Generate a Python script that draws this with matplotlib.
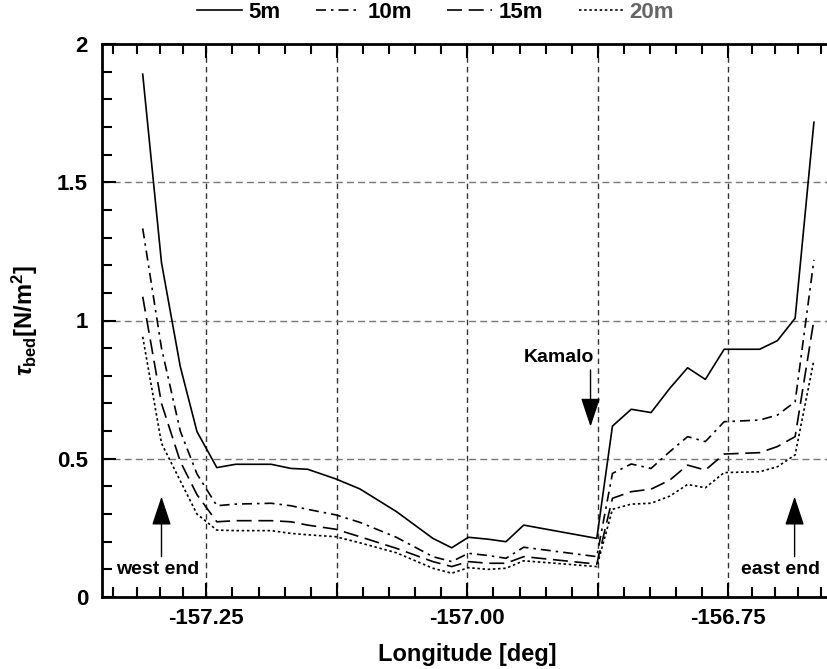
import matplotlib
matplotlib.use("Agg")
import matplotlib.pyplot as plt
from matplotlib.ticker import FixedLocator, FuncFormatter
import numpy as np

plt.rcParams['font.family'] = ['Liberation Sans', 'DejaVu Sans']
plt.rcParams['font.weight'] = 'bold'
plt.rcParams['axes.unicode_minus'] = False
plt.rcParams['mathtext.fontset'] = 'custom'
plt.rcParams['mathtext.rm'] = 'Liberation Sans'
plt.rcParams['mathtext.bf'] = 'Liberation Sans:bold'
plt.rcParams['mathtext.it'] = 'Liberation Sans:italic'

# longitude of the sample points along the coast
lon = [-157.311, -157.293, -157.275, -157.259, -157.240, -157.222, -157.188,
       -157.169, -157.153, -157.126, -157.103, -157.068, -157.033, -157.015,
       -156.999, -156.980, -156.963, -156.946, -156.876, -156.861, -156.843,
       -156.824, -156.806, -156.789, -156.772, -156.754, -156.720, -156.703,
       -156.686, -156.668]

# bed shear stress [N/m2] for each depth
tau_5m = [1.891, 1.209, 0.833, 0.598, 0.468, 0.480, 0.480, 0.465, 0.462, 0.427,
          0.391, 0.309, 0.212, 0.178, 0.216, 0.209, 0.200, 0.260, 0.212, 0.618,
          0.679, 0.667, 0.755, 0.829, 0.787, 0.896, 0.896, 0.927, 1.008, 1.717]
tau_10m = [1.333, 0.900, 0.600, 0.445, 0.330, 0.336, 0.339, 0.330, 0.317, 0.297,
           0.270, 0.216, 0.146, 0.128, 0.158, 0.150, 0.140, 0.180, 0.146, 0.447,
           0.481, 0.465, 0.526, 0.580, 0.562, 0.634, 0.640, 0.658, 0.706, 1.219]
tau_15m = [1.086, 0.700, 0.490, 0.370, 0.272, 0.276, 0.276, 0.272, 0.260, 0.245,
           0.218, 0.176, 0.128, 0.110, 0.128, 0.122, 0.122, 0.146, 0.119, 0.357,
           0.381, 0.390, 0.423, 0.477, 0.459, 0.517, 0.522, 0.544, 0.580, 1.002]
tau_20m = [0.941, 0.556, 0.420, 0.300, 0.242, 0.240, 0.240, 0.230, 0.225, 0.218,
           0.196, 0.160, 0.104, 0.086, 0.106, 0.100, 0.104, 0.131, 0.110, 0.317,
           0.336, 0.339, 0.365, 0.407, 0.395, 0.450, 0.453, 0.471, 0.514, 0.857]

labels = ['5m', '10m', '15m', '20m']
styles = ['-', (0, (6, 3, 1.5, 3)), (0, (9, 4)), (0, (1.5, 1.6))]

fig = plt.figure(figsize=(8.27, 6.69), dpi=100)
ax = fig.add_axes([102 / 827, 72 / 669, 730.7 / 827, 553 / 669])

for y, lab, ls in zip([tau_5m, tau_10m, tau_15m, tau_20m], labels, styles):
    ax.plot(lon, y, color='black', linestyle=ls, linewidth=1.2, label=lab)

ax.set_xlim(-157.35, -156.65)
ax.set_ylim(0, 2)

# grid
for gx in np.arange(-157.25, -156.70, 0.125):
    ax.axvline(gx, color='#333333', linewidth=1.0, linestyle=(0, (4, 3)), zorder=0)
for gy in [0.5, 1.0, 1.5]:
    ax.axhline(gy, color='#777777', linewidth=1.0, linestyle=(0, (5, 3)), zorder=0)

# ticks
majors = np.arange(-157.25, -156.70, 0.125)
ax.xaxis.set_major_locator(FixedLocator(majors))
ax.xaxis.set_major_formatter(FuncFormatter(
    lambda v, p: '%.2f' % v if abs((v * 4) - round(v * 4)) < 1e-6 else ''))
minor_x = list(np.arange(-157.25, -156.74, 0.025))
minor_x += [-157.25 - k * 0.0223 for k in range(1, 5)]
minor_x += [-156.75 + k * 0.0223 for k in range(1, 5)]
ax.xaxis.set_minor_locator(FixedLocator(minor_x))

ax.yaxis.set_major_locator(FixedLocator([0, 0.5, 1, 1.5, 2]))
ax.yaxis.set_major_formatter(FuncFormatter(lambda v, p: '%g' % v))
ax.yaxis.set_minor_locator(FixedLocator(np.arange(0, 2.01, 0.1)))

ax.tick_params(axis='x', which='both', direction='in', top=True, bottom=True,
               labelsize=16, pad=8)
ax.tick_params(axis='y', which='both', direction='in', left=True, right=False,
               labelsize=16, pad=10)
ax.tick_params(which='major', length=10, width=1.5)
ax.tick_params(which='minor', length=7, width=1.5)

for s in ['left', 'bottom', 'top']:
    ax.spines[s].set_linewidth(2)
ax.spines['right'].set_visible(False)

ax.set_xlabel('Longitude [deg]', fontsize=17, fontweight='bold', labelpad=10)
ax.set_ylabel(r'$\tau_{\mathbf{bed}}$[N/m$^{\mathbf{2}}$]', fontsize=17,
              fontweight='bold', labelpad=12)

# annotations
arrow = dict(arrowstyle='-|>,head_length=1.2,head_width=0.4', color='black',
             linewidth=1.0, shrinkA=0, shrinkB=0, mutation_scale=15)
ax.annotate('', xy=(-157.293, 0.363), xytext=(-157.293, 0.146), arrowprops=arrow)
ax.text(-157.297, 0.098, 'west end', fontsize=14, fontweight='bold',
        ha='center', va='center')
ax.annotate('', xy=(-156.6865, 0.363), xytext=(-156.6865, 0.146), arrowprops=arrow)
ax.text(-156.6625, 0.098, 'east end', fontsize=14, fontweight='bold',
        ha='right', va='center')
ax.annotate('', xy=(-156.882, 0.616), xytext=(-156.882, 0.821), arrowprops=arrow)
ax.text(-156.8785, 0.867, 'Kamalo', fontsize=14, fontweight='bold',
        ha='right', va='center')

leg = fig.legend(loc='center', bbox_to_anchor=(0.527, 0.982), ncol=4,
                 frameon=False, fontsize=16, handlelength=2.0,
                 handletextpad=0.3, columnspacing=1.6)
leg.get_texts()[3].set_color('#666666')
for t in leg.get_texts():
    t.set_fontweight('bold')

fig.savefig('out.png', dpi=100)
